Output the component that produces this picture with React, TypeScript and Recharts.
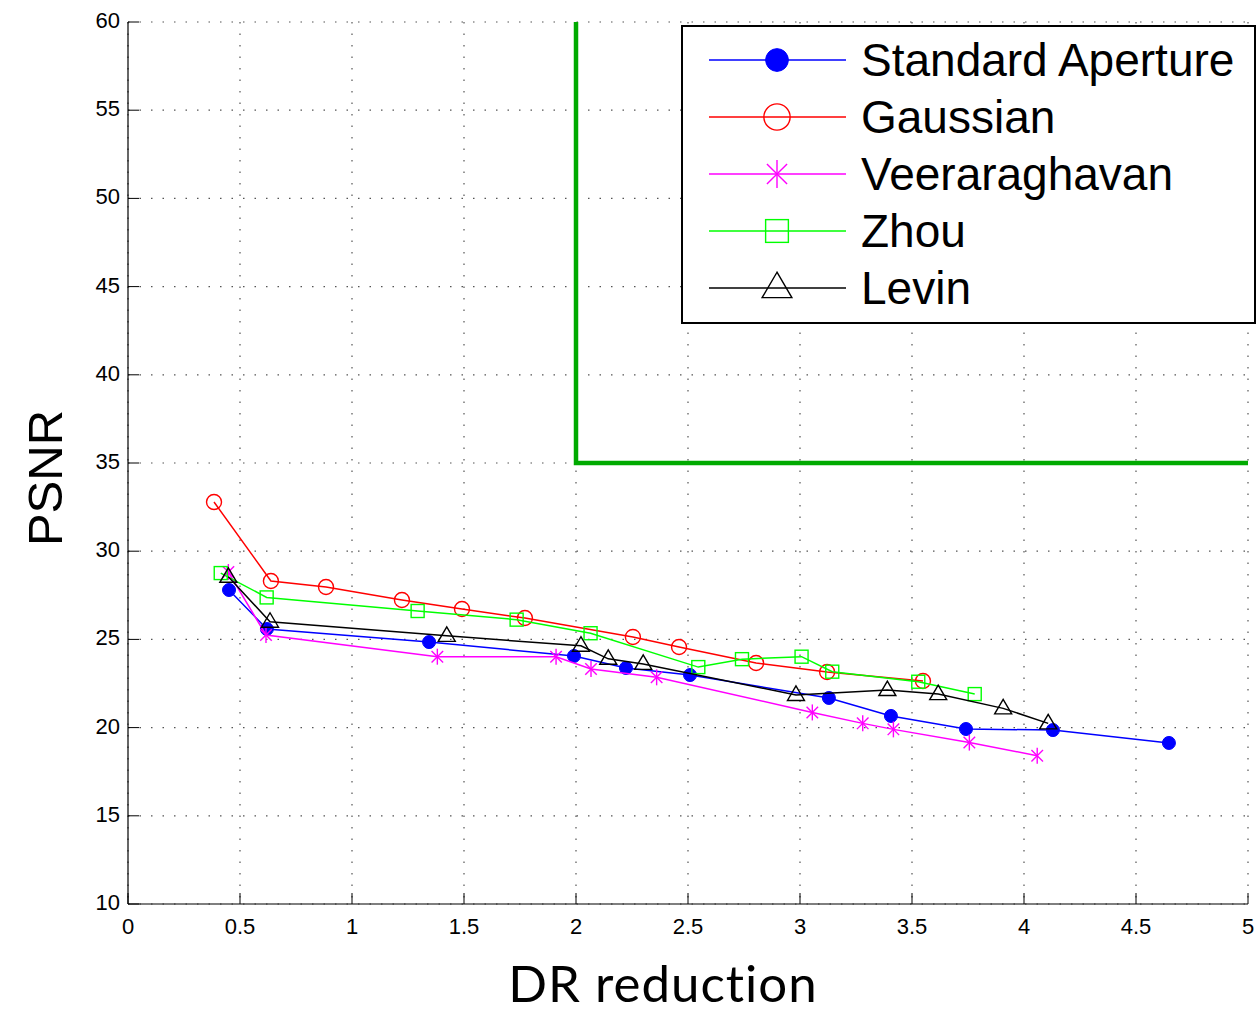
import React from 'react';
import { ScatterChart, Scatter, XAxis, YAxis, CartesianGrid, Legend } from 'recharts';

const xTicks = [0, 0.5, 1, 1.5, 2, 2.5, 3, 3.5, 4, 4.5, 5];
const yTicks = [10, 15, 20, 25, 30, 35, 40, 45, 50, 55, 60];

const standardX = [0.451, 0.62, 1.344, 1.991, 2.223, 2.509, 3.129, 3.406, 3.741, 4.129, 4.647];
const standardY = [27.8, 25.59, 24.85, 24.06, 23.38, 22.98, 21.68, 20.66, 19.92, 19.86, 19.13];
const gaussianX = [0.384, 0.638, 0.884, 1.223, 1.491, 1.772, 2.254, 2.46, 2.804, 3.121, 3.549];
const gaussianY = [32.79, 28.31, 27.97, 27.23, 26.72, 26.21, 25.14, 24.57, 23.66, 23.15, 22.64];
const veerX = [0.448, 0.616, 1.381, 1.911, 2.067, 2.36, 3.055, 3.28, 3.417, 3.756, 4.059];
const veerY = [28.82, 25.25, 24.02, 24.02, 23.32, 22.85, 20.86, 20.24, 19.9, 19.15, 18.41];
const zhouX = [0.414, 0.619, 1.293, 1.735, 2.065, 2.546, 2.741, 3.007, 3.144, 3.528, 3.78];
const zhouY = [28.76, 27.38, 26.61, 26.12, 25.35, 23.43, 23.88, 24.02, 23.17, 22.6, 21.9];
const levinX = [0.448, 0.634, 1.423, 2.022, 2.144, 2.3, 2.982, 3.39, 3.617, 3.907, 4.108];
const levinY = [28.55, 26.0, 25.2, 24.64, 23.9, 23.61, 21.85, 22.13, 21.9, 21.09, 20.24];
const boundaryX = [2, 2, 5];
const boundaryY = [60, 35, 35];

const seriesNames = ['Standard Aperture', 'Gaussian', 'Veeraraghavan', 'Zhou', 'Levin'];
const seriesColors = ['#0000ff', '#ff0000', '#ff00ff', '#00ff00', '#000000'];

const zip = (xs: number[], ys: number[]) => xs.map((x, i) => ({ x, y: ys[i] }));

const standardData = zip(standardX, standardY);
const gaussianData = zip(gaussianX, gaussianY);
const veerData = zip(veerX, veerY);
const zhouData = zip(zhouX, zhouY);
const levinData = zip(levinX, levinY);
const boundaryData = zip(boundaryX, boundaryY);

const drawMarker = (kind: number, cx: number, cy: number, s: number, key?: string) => {
  const c = seriesColors[kind];
  if (kind === 0) return <circle key={key} cx={cx} cy={cy} r={6.5 * s} fill={c} stroke={c} />;
  if (kind === 1) return <circle key={key} cx={cx} cy={cy} r={7.5 * s} fill="none" stroke={c} strokeWidth={1.4} />;
  if (kind === 2) {
    const r = 8 * s;
    const d = r * 0.72;
    return (
      <g key={key} stroke={c} strokeWidth={1.4}>
        <line x1={cx} y1={cy - r} x2={cx} y2={cy + r} />
        <line x1={cx - d} y1={cy - d} x2={cx + d} y2={cy + d} />
        <line x1={cx - d} y1={cy + d} x2={cx + d} y2={cy - d} />
      </g>
    );
  }
  if (kind === 3) {
    const h = 6.5 * s;
    return <rect key={key} x={cx - h} y={cy - h} width={2 * h} height={2 * h} fill="none" stroke={c} strokeWidth={1.4} />;
  }
  const w = 8.5 * s;
  const up = 9 * s;
  const dn = 5.5 * s;
  return (
    <polygon
      key={key}
      points={`${cx},${cy - up} ${cx - w},${cy + dn} ${cx + w},${cy + dn}`}
      fill="none"
      stroke={c}
      strokeWidth={1.4}
    />
  );
};

const makeShape = (kind: number) => (props: any) => {
  const { cx, cy } = props;
  if (cx == null || cy == null) return <g />;
  return drawMarker(kind, cx, cy, 1);
};

const XTick = (props: any) => {
  const { x, y, payload } = props;
  return (
    <g>
      <line x1={x} y1={y} x2={x} y2={y - 11} stroke="#000" strokeWidth={1} />
      <text x={x} y={y + 30} textAnchor="middle" fontFamily="'Liberation Sans', Arial, sans-serif" fontSize={22} fill="#000">
        {payload.value}
      </text>
    </g>
  );
};

const YTick = (props: any) => {
  const { x, y, payload } = props;
  return (
    <g>
      <line x1={x} y1={y} x2={x + 11} y2={y} stroke="#000" strokeWidth={1} />
      <text x={x - 8} y={y + 6} textAnchor="end" fontFamily="'Liberation Sans', Arial, sans-serif" fontSize={22} fill="#000">
        {payload.value}
      </text>
    </g>
  );
};

const LegendBox = () => (
  <div
    style={{
      width: 575,
      height: 299,
      border: '2px solid #000',
      background: '#fff',
      boxSizing: 'border-box',
    }}
  >
    <svg width={571} height={295} style={{ display: 'block' }}>
      {seriesNames.map((name, i) => {
        const cy = 33 + i * 57;
        return (
          <g key={name}>
            <line x1={26} y1={cy} x2={163} y2={cy} stroke={seriesColors[i]} strokeWidth={1.5} />
            {drawMarker(i, 94, cy, 1.75)}
            <text x={178} y={cy + 16} fontFamily="'Liberation Sans', Arial, sans-serif" fontSize={46} fill="#000">
              {name}
            </text>
          </g>
        );
      })}
    </svg>
  </div>
);

export default function App() {
  return (
    <div style={{ position: 'absolute', left: 0, top: 0, background: '#fff' }}>
      <ScatterChart width={1257} height={1012} margin={{ top: 22, right: 9, left: 0, bottom: 0 }}>
        <CartesianGrid stroke="#555" strokeDasharray="1.5 10" strokeWidth={1.2} />
        <XAxis
          type="number"
          dataKey="x"
          domain={[0, 5]}
          ticks={xTicks}
          interval={0}
          height={108}
          tickSize={0}
          tickMargin={0}
          tick={<XTick />}
          axisLine={{ stroke: '#000', strokeWidth: 1.2 }}
          allowDataOverflow
          label={{
            content: () => (
              <text x={663} y={1002} textAnchor="middle" fontFamily="Lato, 'Open Sans', sans-serif" fontSize={51} letterSpacing={1} fill="#000">
                DR reduction
              </text>
            ),
          }}
        />
        <YAxis
          type="number"
          dataKey="y"
          domain={[10, 60]}
          ticks={yTicks}
          interval={0}
          width={128}
          tickSize={0}
          tickMargin={0}
          tick={<YTick />}
          axisLine={{ stroke: '#000', strokeWidth: 1.2 }}
          allowDataOverflow
          label={{
            content: () => (
              <text
                x={62}
                y={478}
                textAnchor="middle"
                transform="rotate(-90 62 478)"
                fontFamily="'Liberation Sans', Arial, sans-serif"
                fontSize={49}
                fill="#000"
              >
                PSNR
              </text>
            ),
          }}
        />
        <Scatter
          name="boundary"
          data={boundaryData}
          line={{ stroke: '#00aa00', strokeWidth: 4.5 }}
          shape={() => <g />}
          isAnimationActive={false}
          legendType="none"
        />
        <Scatter name={seriesNames[0]} data={standardData} line={{ stroke: seriesColors[0], strokeWidth: 1.5 }} shape={makeShape(0)} isAnimationActive={false} />
        <Scatter name={seriesNames[1]} data={gaussianData} line={{ stroke: seriesColors[1], strokeWidth: 1.5 }} shape={makeShape(1)} isAnimationActive={false} />
        <Scatter name={seriesNames[2]} data={veerData} line={{ stroke: seriesColors[2], strokeWidth: 1.5 }} shape={makeShape(2)} isAnimationActive={false} />
        <Scatter name={seriesNames[3]} data={zhouData} line={{ stroke: seriesColors[3], strokeWidth: 1.5 }} shape={makeShape(3)} isAnimationActive={false} />
        <Scatter name={seriesNames[4]} data={levinData} line={{ stroke: seriesColors[4], strokeWidth: 1.5 }} shape={makeShape(4)} isAnimationActive={false} />
        <Legend
          layout="vertical"
          align="center"
          verticalAlign="middle"
          content={<LegendBox />}
          wrapperStyle={{ position: 'absolute', left: 681, top: 25, width: 575, height: 299, bottom: 'auto', right: 'auto' }}
        />
      </ScatterChart>
    </div>
  );
}
